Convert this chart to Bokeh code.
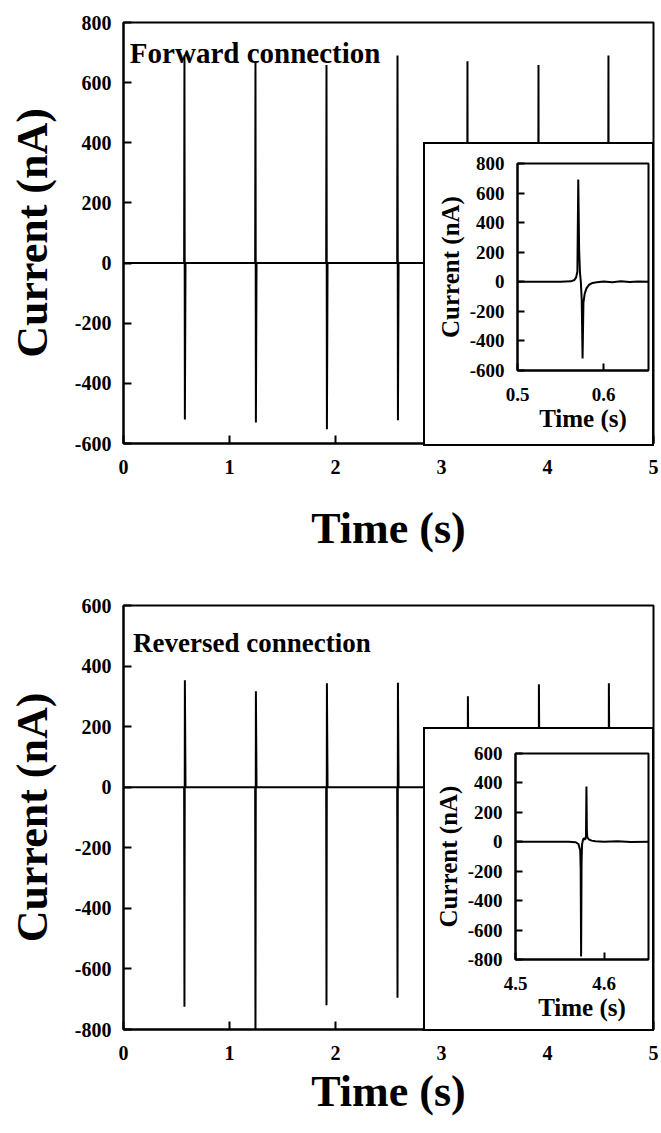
from bokeh.plotting import figure
from bokeh.models import Range1d, FixedTicker, Label, Column
from bokeh.embed import file_html
from bokeh.resources import INLINE

# ---------------- data ----------------
spike_times = [0.575, 1.245, 1.915, 2.585, 3.245, 3.915, 4.575]
fwd_spike_max = [690, 671, 659, 690, 671, 659, 690]
fwd_spike_min = [-520, -530, -553, -523, -525, -530, -519]
rev_spike_max = [353, 317, 343, 345, 300, 340, 343]
rev_spike_min = [-725, -830, -720, -695, -760, -750, -780]

fwd_zoom_t = [0.500, 0.550, 0.562, 0.566, 0.568, 0.5695, 0.5705, 0.5715, 0.5725,
              0.5735, 0.5745, 0.5755, 0.5765, 0.578, 0.580, 0.583, 0.587, 0.592,
              0.600, 0.610, 0.620, 0.630, 0.640, 0.652]
fwd_zoom_i = [0, 0, 3, 12, 30, 70, 692, 220, 60,
              0, -120, -519, -140, -80, -45, -20, -8, -3,
              2, -3, 3, -2, 2, 0]

rev_zoom_t = [4.500, 4.560, 4.568, 4.571, 4.573, 4.5735, 4.574, 4.5745, 4.575,
              4.576, 4.577, 4.578, 4.579, 4.5795, 4.580, 4.5805, 4.581, 4.583,
              4.586, 4.590, 4.600, 4.615, 4.630, 4.650]
rev_zoom_i = [0, 0, -3, -15, -60, -180, -780, -150, -20,
              10, 25, 15, 20, 40, 376, 80, 30, 15,
              8, 3, 0, 3, -2, 0]

main_x_ticks = [0, 1, 2, 3, 4, 5]
fwd_y_ticks = [-600, -400, -200, 0, 200, 400, 600, 800]
rev_y_ticks = [-800, -600, -400, -200, 0, 200, 400, 600]
fwd_inset_x_ticks = [0.5, 0.6]
rev_inset_x_ticks = [4.5, 4.6]

FONT = "Liberation Serif"


def build_trace(ts, first, second, t_end):
    xs, ys = [0.0], [0.0]
    for t, a, b in zip(ts, first, second):
        xs += [t - 0.003, t, t + 0.004, t + 0.010]
        ys += [0, a, b, 0]
    xs.append(t_end)
    ys.append(0)
    return xs, ys


def set_ticks(ax, ticks):
    ax.ticker = FixedTicker(ticks=ticks)
    ax.major_label_overrides = {t: str(t) for t in ticks}


def style(p, tick_fs, label_fs, tick_len, label_standoff_x, label_standoff_y,
          tick_standoff_x, tick_standoff_y):
    p.xgrid.visible = False
    p.ygrid.visible = False
    p.outline_line_color = "black"
    p.outline_line_width = 2
    p.outline_line_alpha = 1
    p.background_fill_color = "white"
    p.border_fill_color = "white"
    for ax in (p.xaxis[0], p.yaxis[0]):
        ax.axis_line_width = 2
        ax.axis_line_color = "black"
        ax.major_tick_line_width = 2
        ax.major_tick_line_color = "black"
        ax.major_tick_in = tick_len
        ax.major_tick_out = 0
        ax.minor_tick_line_color = None
        ax.major_label_text_font = FONT
        ax.major_label_text_font_style = "bold"
        ax.major_label_text_font_size = tick_fs
        ax.major_label_text_color = "black"
        ax.axis_label_text_font = FONT
        ax.axis_label_text_font_style = "bold"
        ax.axis_label_text_font_size = label_fs
        ax.axis_label_text_color = "black"
    p.xaxis[0].axis_label_standoff = label_standoff_x
    p.yaxis[0].axis_label_standoff = label_standoff_y
    p.xaxis[0].major_label_standoff = tick_standoff_x
    p.yaxis[0].major_label_standoff = tick_standoff_y


# ---------------- top main ----------------
p1 = figure(width=661, height=566, x_range=Range1d(0, 5), y_range=Range1d(-600, 800),
            output_backend="svg", toolbar_location=None,
            min_border_left=123, min_border_right=8, min_border_top=22, min_border_bottom=123,
            x_axis_label="Time (s)", y_axis_label="Current (nA)")
fx, fy = build_trace(spike_times, fwd_spike_max, fwd_spike_min, 5.0)
p1.line(fx, fy, line_color="black", line_width=2)
set_ticks(p1.xaxis[0], main_x_ticks)
set_ticks(p1.yaxis[0], fwd_y_ticks)
style(p1, "20px", "44px", 8, 27, 15, 16, 12)
p1.add_layout(Label(x=0.06, y=697, text="Forward connection", text_font=FONT,
                    text_font_style="bold", text_font_size="29px", text_color="black",
                    text_baseline="alphabetic"))

# ---------------- bottom main ----------------
p2 = figure(width=661, height=567, x_range=Range1d(0, 5), y_range=Range1d(-800, 600),
            output_backend="svg", toolbar_location=None,
            min_border_left=123, min_border_right=8, min_border_top=39, min_border_bottom=104,
            x_axis_label="Time (s)", y_axis_label="Current (nA)")
rx, ry = build_trace(spike_times, rev_spike_min, rev_spike_max, 5.0)
p2.line(rx, ry, line_color="black", line_width=2)
set_ticks(p2.xaxis[0], main_x_ticks)
set_ticks(p2.yaxis[0], rev_y_ticks)
style(p2, "20px", "44px", 8, 4, 15, 16, 12)
p2.add_layout(Label(x=0.09, y=477, text="Reversed connection", text_font=FONT,
                    text_font_style="bold", text_font_size="27px", text_color="black",
                    text_baseline="alphabetic"))

# ---------------- insets ----------------
i1 = figure(width=227, height=300, x_range=Range1d(0.5, 0.652), y_range=Range1d(-600, 800),
            output_backend="svg", toolbar_location=None,
            min_border_left=92, min_border_right=4, min_border_top=19, min_border_bottom=74,
            x_axis_label="Time (s)", y_axis_label="Current (nA)")
i1.line(fwd_zoom_t, fwd_zoom_i, line_color="black", line_width=2)
set_ticks(i1.xaxis[0], fwd_inset_x_ticks)
set_ticks(i1.yaxis[0], fwd_y_ticks)
style(i1, "19px", "25px", 7, 1, 3, 17, 13)

i2 = figure(width=227, height=300, x_range=Range1d(4.5, 4.65), y_range=Range1d(-800, 600),
            output_backend="svg", toolbar_location=None,
            min_border_left=90, min_border_right=4, min_border_top=24, min_border_bottom=70,
            x_axis_label="Time (s)", y_axis_label="Current (nA)")
i2.line(rev_zoom_t, rev_zoom_i, line_color="black", line_width=2)
set_ticks(i2.xaxis[0], rev_inset_x_ticks)
set_ticks(i2.yaxis[0], rev_y_ticks)
style(i2, "19px", "25px", 7, 1, 3, 17, 13)

inset_css = {"position": "absolute", "left": "423px", "border": "2px solid black",
             "background-color": "white"}
box1 = Column(children=[i1], styles=dict(inset_css, top="142px"))
box2 = Column(children=[i2], styles=dict(inset_css, top="727px"))
mains = Column(children=[p1, p2])

layout = Column(children=[mains, box1, box2], styles={"position": "relative"})

open("out.html", "w").write(file_html(layout, INLINE))
